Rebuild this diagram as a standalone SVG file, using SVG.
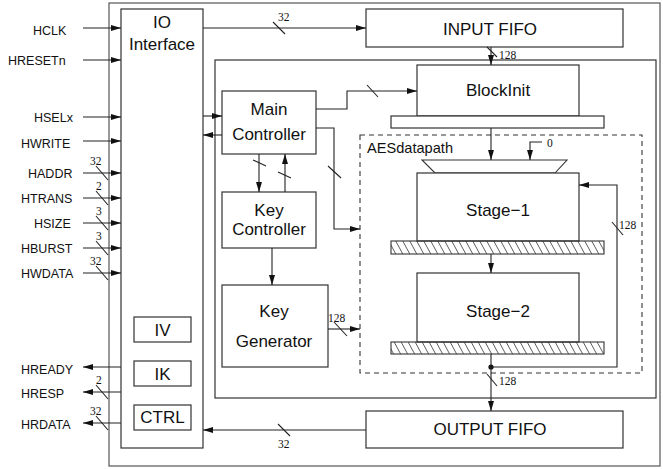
<svg xmlns="http://www.w3.org/2000/svg" width="663" height="469" viewBox="0 0 663 469">
<style>
.box{fill:#fff;stroke:#333;stroke-width:1.2}
.ln{fill:none;stroke:#222;stroke-width:1.1}
.arr{fill:none;stroke:#222;stroke-width:1.1;marker-end:url(#ah)}
.lbl{font-family:"Liberation Sans",Arial,sans-serif;font-size:17px;fill:#111}
.sig{font-family:"Liberation Sans",Arial,sans-serif;font-size:12.5px;fill:#111}
.num{font-family:"Liberation Serif","Times New Roman",serif;font-size:11.5px;fill:#111}
.c{text-anchor:middle}
</style>
<defs>
<marker id="ah" viewBox="0 0 10 6" refX="10" refY="3" markerWidth="10" markerHeight="6" markerUnits="userSpaceOnUse" orient="auto">
<path d="M0,0 L10,3 L0,6 z" fill="#111"/>
</marker>
<pattern id="hatch" patternUnits="userSpaceOnUse" width="7" height="13">
<path d="M-7,0 L0,13 M0,0 L7,13 M7,0 L14,13" stroke="#333" stroke-width="0.8"/>
</pattern>
</defs>

<g id="outer"><rect x="109" y="3" width="551" height="463" fill="#fff" stroke="#555" stroke-width="1.2"/></g>

<g id="io-interface">
<rect class="box" x="121" y="9" width="82" height="439"/>
<text class="lbl c" x="162" y="28">IO</text>
<text class="lbl c" x="162" y="50">Interface</text>
</g>
<g id="iv"><rect class="box" x="134" y="317" width="57" height="25"/><text class="lbl c" x="162.5" y="336">IV</text></g>
<g id="ik"><rect class="box" x="134" y="361" width="57" height="25"/><text class="lbl c" x="162.5" y="380">IK</text></g>
<g id="ctrl"><rect class="box" x="134" y="405" width="57" height="25"/><text class="lbl c" x="162.5" y="423">CTRL</text></g>

<g id="input-fifo">
<rect class="box" x="366" y="9" width="257" height="38"/>
<text class="lbl c" x="490" y="35">INPUT FIFO</text>
</g>

<g id="core"><rect class="box" x="215" y="60" width="441" height="338"/></g>

<g id="aesdatapath">
<rect x="360" y="135" width="282" height="238" fill="none" stroke="#333" stroke-width="1.1" stroke-dasharray="5,4"/>
<text class="sig" style="font-size:14.6px" x="367" y="153">AESdatapath</text>
</g>

<g id="blockinit">
<rect class="box" x="417" y="65" width="162" height="51"/>
<text class="lbl c" x="498" y="96">BlockInit</text>
<rect class="box" x="391" y="116" width="213" height="12"/>
</g>

<g id="mux"><path d="M422,160 L567,160 L555,173 L435,173 z" fill="#fff" stroke="#333" stroke-width="1.1"/></g>

<g id="stage1">
<rect class="box" x="417" y="173" width="162" height="68"/>
<text class="lbl c" x="498" y="216">Stage−1</text>
<rect x="391" y="241" width="213" height="13" fill="url(#hatch)" stroke="#333" stroke-width="1.1"/>
</g>

<g id="stage2">
<rect class="box" x="417" y="273" width="162" height="69"/>
<text class="lbl c" x="498" y="317">Stage−2</text>
<rect x="391" y="342" width="213" height="12" fill="url(#hatch)" stroke="#333" stroke-width="1.1"/>
</g>

<g id="main-controller">
<rect class="box" x="222" y="91" width="94" height="63"/>
<text class="lbl c" x="269" y="115">Main</text>
<text class="lbl c" x="269" y="140">Controller</text>
</g>

<g id="key-controller">
<rect class="box" x="222" y="192" width="94" height="56"/>
<text class="lbl c" x="269" y="216">Key</text>
<text class="lbl c" x="269" y="235">Controller</text>
</g>

<g id="key-generator">
<rect class="box" x="222" y="285" width="106" height="82"/>
<text class="lbl c" x="274" y="317">Key</text>
<text class="lbl c" x="274" y="347">Generator</text>
</g>

<g id="output-fifo">
<rect class="box" x="366" y="411" width="257" height="37"/>
<text class="lbl c" x="490" y="435">OUTPUT FIFO</text>
</g>

<g id="signal-labels">
<text class="sig" x="33" y="35">HCLK</text>
<text class="sig" x="8" y="65">HRESETn</text>
<text class="sig" x="34" y="122">HSELx</text>
<text class="sig" x="21" y="148">HWRITE</text>
<text class="sig" x="28" y="178">HADDR</text>
<text class="sig" x="21" y="203">HTRANS</text>
<text class="sig" x="34" y="228">HSIZE</text>
<text class="sig" x="21" y="253">HBURST</text>
<text class="sig" x="21" y="278">HWDATA</text>
<text class="sig" x="21" y="374">HREADY</text>
<text class="sig" x="21" y="398">HRESP</text>
<text class="sig" x="21" y="429">HRDATA</text>
</g>

<g id="connectors">
<!-- inputs -->
<path class="arr" d="M83,28 H121"/>
<path class="arr" d="M83,60 H121"/>
<path class="arr" d="M83,117 H121"/>
<path class="arr" d="M83,141 H121"/>
<path class="arr" d="M83,173 H121"/>
<path class="arr" d="M83,198 H121"/>
<path class="arr" d="M83,223 H121"/>
<path class="arr" d="M83,248 H121"/>
<path class="arr" d="M83,273 H121"/>
<path class="ln" d="M96,166 L108,180 M96,191 L108,205 M96,216 L108,230 M96,241 L108,255 M96,266 L108,280"/>
<text class="num" x="90" y="165">32</text>
<text class="num" x="96" y="190">2</text>
<text class="num" x="96" y="215">3</text>
<text class="num" x="96" y="240">3</text>
<text class="num" x="90" y="265">32</text>
<!-- outputs -->
<path class="arr" d="M121,367 H83"/>
<path class="arr" d="M121,392 H83"/>
<path class="arr" d="M121,423 H83"/>
<path class="ln" d="M96,385 L108,399 M96,416 L108,430"/>
<text class="num" x="96" y="384">2</text>
<text class="num" x="90" y="415">32</text>
<!-- IO to input fifo -->
<path class="arr" d="M203,28 H366"/>
<path class="ln" d="M273,22 L285,34"/>
<text class="num" x="278" y="21">32</text>
<!-- input fifo to blockinit -->
<path class="arr" d="M491,47 V65"/>
<path class="ln" d="M487,47 L497,57"/>
<text class="num" x="499" y="59">128</text>
<!-- IO <-> main controller -->
<path class="arr" d="M203,116 H222"/>
<path class="arr" d="M222,135 H203"/>
<!-- main to blockinit -->
<path class="arr" d="M316,109 H347 V91 H417"/>
<path class="ln" d="M367,85 L378,97"/>
<!-- main to aesdatapath -->
<path class="arr" d="M316,128 H334 V229 H360"/>
<path class="ln" d="M328,166 L341,178"/>
<!-- main <-> key controller -->
<path class="arr" d="M259,154 V192"/>
<path class="arr" d="M285,192 V154"/>
<path class="ln" d="M253,160 L266,166 M278,172 L291,178"/>
<!-- key controller to key generator -->
<path class="arr" d="M272,248 V285"/>
<!-- key generator to aes -->
<path class="arr" d="M328,329 H360"/>
<path class="ln" d="M334,322 L347,336"/>
<text class="num" x="328" y="322">128</text>
<!-- blockinit to mux -->
<path class="arr" d="M491,128 V160"/>
<path class="arr" d="M542,142 H530 V160"/>
<text class="num" x="547" y="147">0</text>
<!-- stage1 to stage2 -->
<path class="arr" d="M491,254 V273"/>
<!-- feedback -->
<path class="arr" d="M491,367 H617 V185 H579"/>
<path class="ln" d="M612,222 L623,235"/>
<text class="num" x="619" y="229">128</text>
<circle cx="491" cy="367" r="2.6" fill="#111"/>
<!-- to output fifo -->
<path class="arr" d="M491,354 V411"/>
<path class="ln" d="M487,374 L497,386"/>
<text class="num" x="499" y="385">128</text>
<!-- output fifo to IO -->
<path class="arr" d="M366,430 H203"/>
<path class="ln" d="M278,424 L290,436"/>
<text class="num" x="278" y="448">32</text>
</g>
</svg>
